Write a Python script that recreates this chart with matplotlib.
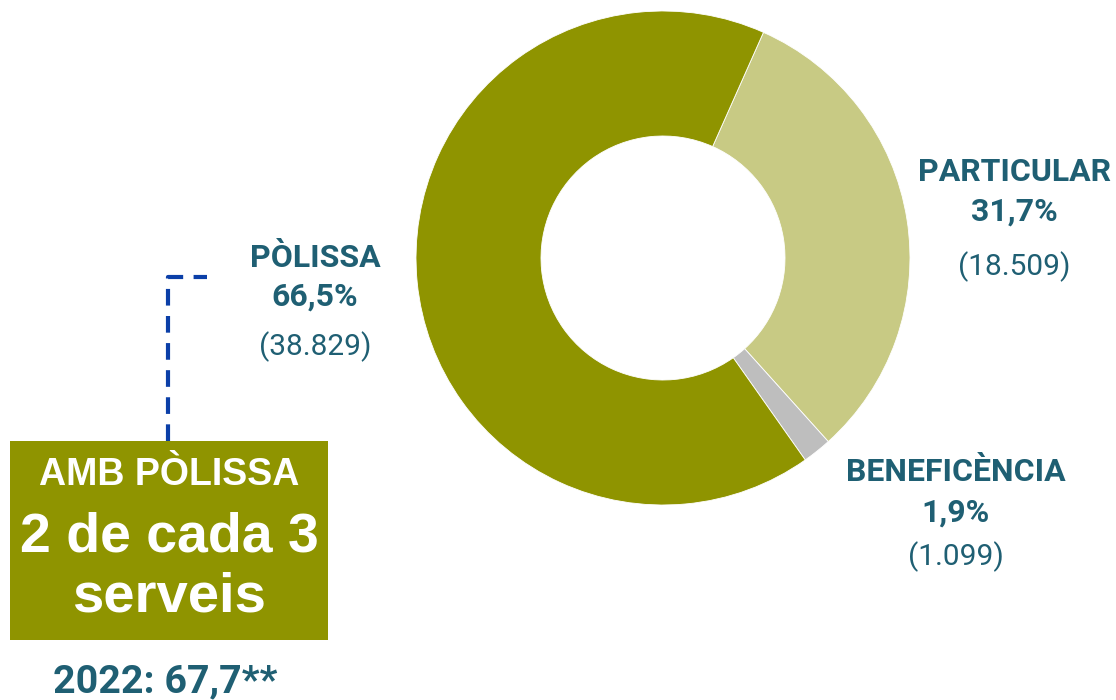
import matplotlib
matplotlib.use("Agg")
import matplotlib.pyplot as plt
from matplotlib.patches import Rectangle

categories = ["PARTICULAR", "BENEFICÈNCIA", "PÒLISSA"]
percents = [31.7, 1.9, 66.5]
pct_labels = ["31,7%", "1,9%", "66,5%"]
counts = ["(18.509)", "(1.099)", "(38.829)"]
colors = ["#C8CA84", "#BEBEBE", "#8F9400"]
box_lines = ["AMB PÒLISSA", "2 de cada 3", "serveis"]
footer = "2022: 67,7**"

W, H = 1116, 700
teal = "#1F5F73"

fig = plt.figure(figsize=(W / 100, H / 100), dpi=100)
ax = fig.add_axes([0, 0, 1, 1])

def Y(py):
    return H - py

ax.pie(percents, colors=colors, startangle=66, counterclock=False,
       radius=247, center=(663, Y(258)),
       wedgeprops=dict(width=125, edgecolor="white", linewidth=0.6))
ax.set_xlim(0, W)
ax.set_ylim(0, H)
ax.set_aspect("auto")
ax.axis("off")

# labels: (x center, y of name, y of pct, y of count)
pos = {
    "PARTICULAR": (1014, 172, 212, 267),
    "BENEFICÈNCIA": (956, 472, 513, 557),
    "PÒLISSA": (315, 258, 297, 347),
}
for cat, pl, cnt in zip(categories, pct_labels, counts):
    x, y1, y2, y3 = pos[cat]
    ax.text(x, Y(y1), cat, family="Roboto", fontweight="bold", fontsize=23,
            color=teal, ha="center", va="center")
    ax.text(x, Y(y2), pl, family="Roboto", fontweight="bold", fontsize=23,
            color=teal, ha="center", va="center")
    ax.text(x, Y(y3), cnt, family="Roboto", fontsize=21.5,
            color=teal, ha="center", va="center")

# box
ax.add_patch(Rectangle((10, Y(640)), 318, 199, facecolor="#8F9400", edgecolor="none"))
ax.text(169, Y(475), box_lines[0], family="Liberation Sans", fontweight="bold",
        fontsize=27, color="white", ha="center", va="center")
ax.text(169, Y(537), box_lines[1], family="Liberation Sans", fontweight="bold",
        fontsize=40, color="white", ha="center", va="center")
ax.text(169, Y(598), box_lines[2], family="Liberation Sans", fontweight="bold",
        fontsize=40.5, color="white", ha="center", va="center")

# dashed connector
ax.plot([168, 168, 207], [Y(441), Y(277), Y(277)], color="#0B3FA8", lw=3,
        linestyle=(0, (4, 2.5)), solid_capstyle="butt")

ax.text(165, Y(682), footer, family="Roboto", fontweight="bold", fontsize=28.4,
        color=teal, ha="center", va="center")

fig.savefig("out.png", dpi=100, facecolor="white")
